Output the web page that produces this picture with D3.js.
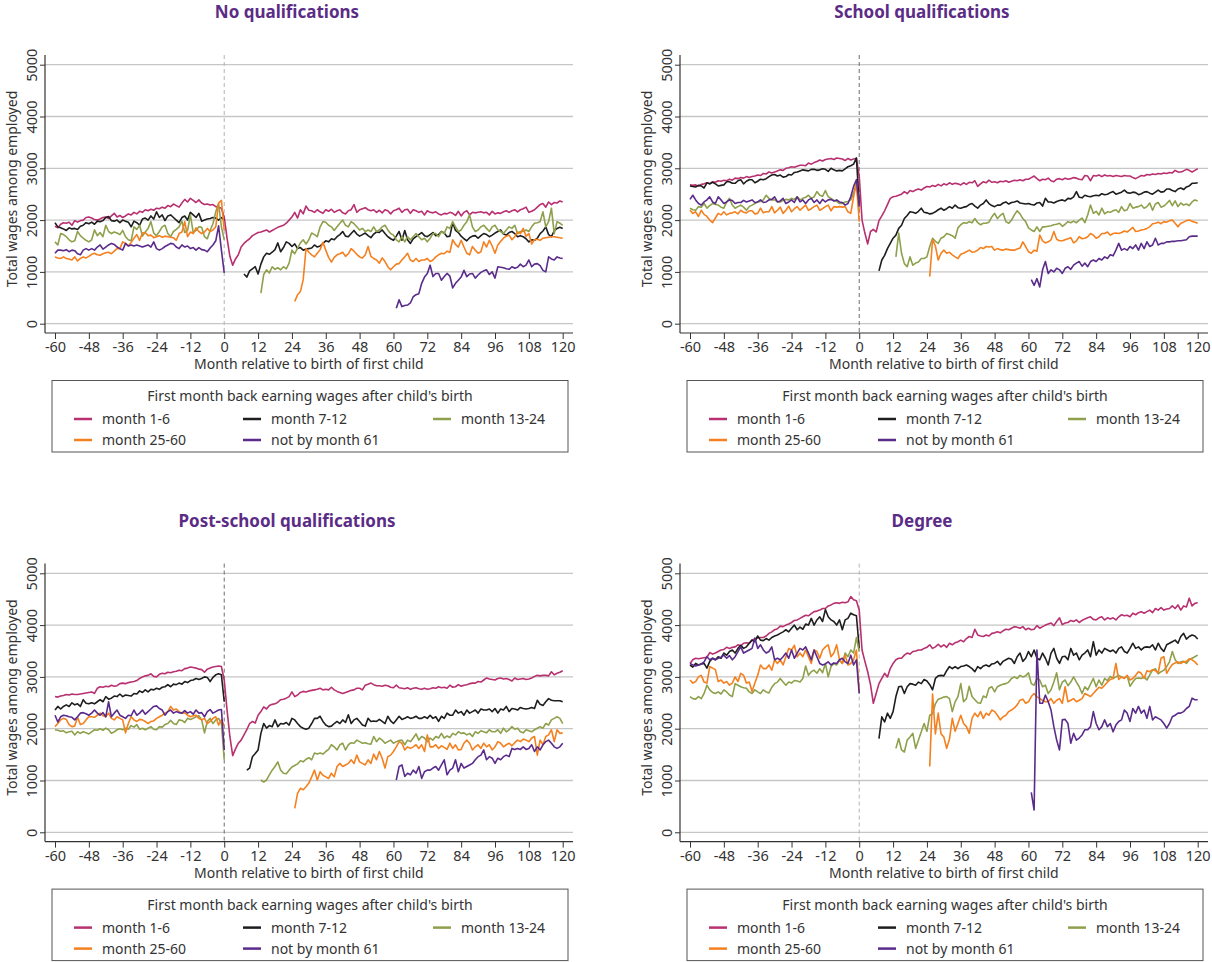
<!DOCTYPE html>
<html>
<head>
<meta charset="utf-8">
<script src="https://cdn.jsdelivr.net/npm/d3@7"></script>
<style>
  body { margin: 0; background: #fff; }
  text { font-family: "Noto Sans", sans-serif; fill: #333; }
</style>
</head>
<body>
<svg id="chart"></svg>
<script>
// ---- labels ----
const panelTitles = ["No qualifications", "School qualifications", "Post-school qualifications", "Degree"];
const seriesNames = ["month 1-6", "month 7-12", "month 13-24", "month 25-60", "not by month 61"];
const legendTitle = "First month back earning wages after child's birth";
const xTitle = "Month relative to birth of first child";
const yTitle = "Total wages among employed";
const xTicks = [-60, -48, -36, -24, -12, 0, 12, 24, 36, 48, 60, 72, 84, 96, 108, 120];
const yTicks = [0, 1000, 2000, 3000, 4000, 5000];
// first month of the after-birth segment for each series (pre segments run -60..0)
const postStart = [1, 7, 13, 25, 61];

// ---- No qualifications ----
const noQual_m1_6_pre = [1880,1850,1920,1950,1940,1960,1900,1990,1960,1990,
  2000,2050,2060,2040,2010,2000,2020,2050,2060,2030, 2080,2130,2060,2090,2050,2080,2120,2100,2150,2120,
  2170,2150,2200,2180,2210,2190,2230,2220,2250,2230, 2280,2260,2310,2280,2250,2330,2400,2350,2420,2380,
  2340,2390,2330,2300,2310,2290,2300,2260,2250,2230, 2060];
const noQual_m1_6_post = [1650,1300,1130,1250,1330,1480,1550,1600,1640,1700,
  1730,1760,1770,1790,1810,1770,1800,1830,1860,1880, 1900,1940,2000,2060,2150,2040,2200,2120,2270,2190,
  2180,2150,2200,2160,2130,2200,2170,2210,2150,2180, 2200,2140,2120,2180,2200,2300,2150,2200,2220,2240,
  2200,2180,2200,2150,2190,2140,2200,2180,2120,2180, 2200,2230,2150,2200,2210,2130,2200,2180,2150,2170,
  2100,2180,2150,2140,2160,2120,2100,2130,2120,2150, 2130,2090,2170,2080,2150,2180,2100,2150,2140,2150,
  2160,2140,2150,2100,2170,2120,2140,2130,2160,2180, 2150,2180,2200,2160,2200,2220,2250,2150,2170,2200,
  2250,2300,2320,2250,2350,2300,2340,2330,2370,2350];
const noQual_m7_12_pre = [1950,1870,1850,1830,1800,1850,1830,1840,1820,1880,
  1900,1950,1930,1960,1920,1980,1970,1990,2050,2070, 1990,1980,2000,1950,2000,1980,1960,1870,1980,1950,
  1900,2020,2040,2000,2080,2020,2160,2050,2100,1990, 2080,2100,2050,2000,1950,2050,2080,2000,2150,2100,
  2050,2130,1980,2000,2020,2030,2050,2040,2000,2050, 2000];
const noQual_m7_12_post = [960,900,1020,1060,1100,960,1150,1290,1360,1340,
  1380,1430,1560,1390,1470,1580,1550,1490,1540,1450, 1470,1420,1440,1450,1460,1520,1480,1500,1550,1600,
  1580,1640,1620,1680,1720,1780,1690,1680,1740,1800, 1730,1690,1720,1750,1700,1660,1730,1770,1760,1810,
  1740,1680,1640,1610,1690,1780,1610,1800,1620,1550, 1640,1680,1720,1760,1700,1680,1720,1760,1700,1720,
  1780,1750,1680,1690,1950,1800,1760,1690,1640,1600, 1660,1690,1700,1650,1700,1740,1720,1680,1710,1750,
  1780,1810,1730,1710,1760,1780,1740,1680,1700,1680, 1640,1580,1620,1610,1650,1740,1790,1870,1720,1680,
  1790,1840,1860,1840];
const noQual_m13_24_pre = [1580,1520,1740,1720,1680,1620,1580,1600,1780,1700,
  1650,1610,1580,1620,1810,1700,1760,1680,1900,1780, 1740,1770,1750,1720,1800,1680,1620,1600,1870,1820,
  1900,1690,1770,1840,1970,1750,1700,1780,1870,1900, 1740,1680,1780,1820,1870,1980,1760,1800,2100,1760,
  1800,1870,1860,1680,1640,1800,1930,2160,2320,1870, 1620];
const noQual_m13_24_post = [590,950,1040,980,1100,1050,1080,1040,1100,1060,
  1170,1420,1350,1460,1560,1620,1540,1620,1750,1720, 1680,1870,1970,1960,1900,1870,1800,1870,1940,2000,
  1900,1870,1970,1930,1870,1810,1840,1780,1810,1780, 1870,1780,1810,1870,1900,1810,1740,1710,1620,1580,
  1680,1580,1680,1620,1680,1740,1680,1620,1650,1580, 1650,1740,1740,1680,1780,1740,1870,1840,1970,1870,
  1780,1810,1900,1970,2100,1870,1780,1810,1870,1900, 1840,1780,1870,1900,1810,1780,1740,1810,1870,1840,
  1900,1740,1780,1780,1810,1780,1870,1940,1950,1970, 2160,1870,1970,2230,1740,1970,1940,1900];
const noQual_m25_60_pre = [1290,1270,1260,1290,1260,1250,1230,1290,1210,1260,
  1290,1270,1300,1340,1360,1330,1320,1350,1370,1380, 1350,1400,1450,1450,1580,1550,1500,1570,1650,1720,
  1610,1750,1760,1700,1710,1660,1680,1700,1670,1690, 1680,1670,1660,1610,1740,1770,1970,1680,1770,1740,
  1850,1780,1740,1770,1840,1780,1810,1870,2330,2380, 1800];
const noQual_m25_60_post = [430,560,620,850,1450,1380,1330,1290,1360,1430,
  1570,1420,1280,1190,1280,1330,1350,1380,1300,1350, 1450,1400,1340,1290,1270,1330,1490,1300,1260,1230,
  1170,1270,1200,1100,1040,1100,1150,1160,1230,1290, 1360,1230,1200,1260,1200,1230,1230,1260,1200,1230,
  1290,1330,1360,1350,1400,1380,1620,1530,1480,1610, 1480,1360,1330,1490,1420,1360,1390,1580,1480,1610,
  1500,1360,1520,1590,1650,1690,1710,1620,1680,1770, 1740,1840,1690,1740,1540,1620,1630,1610,1650,1660,
  1670,1680,1680,1670,1660,1650];
const noQual_not61_pre = [1360,1420,1420,1410,1430,1390,1420,1410,1350,1330,
  1420,1450,1420,1450,1420,1480,1520,1440,1480,1520, 1550,1530,1480,1450,1420,1550,1500,1520,1500,1520,
  1500,1480,1500,1520,1480,1580,1450,1420,1450,1490, 1520,1550,1540,1480,1450,1520,1480,1500,1450,1470,
  1420,1470,1430,1420,1390,1460,1520,1600,1890,1420, 980];
const noQual_not61_post = [300,460,330,350,360,400,520,560,580,780,
  900,970,1130,910,970,970,840,910,970,920, 690,780,840,900,1030,910,960,970,880,940,
  990,1020,1040,950,1000,880,1100,1090,1080,1060, 1050,1100,1070,1090,1150,1100,1130,1230,1100,1150,
  1160,1120,1030,1000,1290,1250,1230,1290,1270,1260];

// ---- School qualifications ----
const school_m1_6_pre = [2680,2670,2680,2660,2690,2700,2720,2700,2740,2730,
  2760,2750,2770,2760,2790,2770,2810,2800,2820,2810, 2840,2820,2840,2850,2870,2860,2900,2890,2930,2910,
  2930,2950,2970,2960,3000,3010,3030,3020,3040,3060, 3060,3050,3100,3080,3110,3130,3160,3140,3170,3180,
  3190,3170,3200,3190,3180,3150,3190,3160,3180,3190, 2850];
const school_m1_6_post = [2000,1750,1540,1780,1820,1770,1990,2080,2180,2300,
  2420,2450,2460,2480,2500,2550,2510,2570,2550,2580, 2600,2580,2620,2650,2640,2670,2650,2690,2660,2700,
  2680,2720,2690,2710,2700,2680,2720,2690,2730,2720, 2760,2650,2700,2740,2720,2770,2730,2740,2720,2750,
  2740,2760,2730,2750,2770,2760,2780,2760,2790,2790, 2820,2850,2800,2760,2790,2780,2810,2760,2740,2790,
  2800,2780,2810,2790,2800,2820,2810,2790,2780,2860, 2850,2760,2860,2850,2870,2840,2870,2850,2860,2840,
  2860,2850,2840,2860,2850,2850,2820,2800,2830,2860, 2850,2880,2870,2890,2880,2900,2890,2910,2900,2920,
  2910,2960,2930,2930,2950,2980,2960,2930,2960,2990];
const school_m7_12_pre = [2660,2650,2640,2670,2660,2620,2720,2700,2730,2700,
  2660,2670,2680,2740,2740,2710,2710,2760,2780,2700, 2750,2780,2780,2720,2750,2790,2780,2800,2840,2870,
  2880,2850,2870,2830,2840,2880,2870,2920,2930,2950, 2970,2960,2950,2980,2980,2960,2970,2990,2980,2940,
  3000,2970,2950,2960,2950,2990,3030,3050,3080,3200, 2300];
const school_m7_12_post = [1020,1230,1320,1450,1550,1650,1710,1840,1900,2030,
  2090,2160,2150,2130,2170,2230,2150,2140,2120,2130, 2160,2200,2230,2190,2220,2260,2230,2290,2240,2230,
  2250,2260,2300,2320,2270,2230,2290,2320,2390,2320, 2280,2260,2290,2290,2330,2350,2310,2340,2350,2370,
  2330,2320,2310,2320,2300,2290,2330,2340,2270,2420, 2350,2350,2330,2360,2380,2390,2370,2420,2410,2450,
  2550,2440,2430,2480,2460,2450,2470,2480,2470,2510, 2490,2500,2530,2550,2500,2520,2540,2580,2530,2520,
  2540,2530,2490,2510,2540,2550,2520,2500,2540,2580, 2540,2550,2600,2600,2570,2550,2600,2620,2590,2640,
  2660,2710,2710,2720];
const school_m13_24_pre = [2230,2200,2190,2260,2250,2320,2230,2280,2320,2300,
  2290,2250,2230,2350,2420,2290,2230,2260,2290,2250, 2190,2260,2290,2320,2350,2360,2390,2480,2420,2390,
  2390,2350,2350,2380,2400,2390,2420,2400,2450,2390, 2420,2440,2480,2420,2450,2550,2480,2460,2570,2450,
  2420,2380,2360,2320,2320,2350,2360,2390,2520,2710, 2190];
const school_m13_24_post = [1290,1750,1360,1160,1100,1290,1130,1170,1190,1260,
  1260,1290,1490,1650,1590,1550,1650,1680,1740,1720, 1700,1650,1850,1910,1950,1940,1970,1950,2030,1950,
  1910,1940,1940,1960,2060,2130,2030,2090,2130,1970, 1940,2000,2100,2180,2120,2030,1970,1850,1810,1780,
  1870,1780,1870,1870,1880,1890,1910,1920,1940,1880, 1920,1970,1950,1980,1950,2000,2040,1950,2100,2290,
  2130,2170,2100,2230,2120,2160,2150,2180,2200,2150, 2260,2180,2200,2320,2230,2250,2260,2290,2230,2260,
  2330,2190,2310,2340,2250,2270,2320,2380,2280,2370, 2260,2330,2290,2310,2280,2350,2390,2370];
const school_m25_60_pre = [2190,2130,2160,2070,2190,2110,2070,2000,1950,2040,
  2130,2100,2160,2100,2130,2140,2160,2120,2190,2150, 2140,2180,2180,2120,2130,2230,2140,2160,2160,2260,
  2140,2190,2250,2130,2190,2270,2160,2220,2260,2190, 2240,2290,2190,2220,2260,2290,2190,2220,2260,2290,
  2180,2260,2250,2260,2250,2260,2160,2130,2450,2710, 1970];
const school_m25_60_post = [910,1620,1500,1230,1360,1420,1360,1380,1330,1290,
  1260,1340,1360,1390,1420,1380,1390,1420,1470,1450, 1490,1480,1490,1420,1450,1430,1420,1440,1430,1420,
  1420,1440,1460,1580,1490,1390,1360,1420,1400,1710, 1600,1560,1580,1620,1780,1630,1600,1600,1620,1640,
  1660,1560,1600,1680,1640,1650,1680,1740,1710,1650, 1680,1740,1740,1770,1710,1740,1750,1740,1760,1790,
  1770,1810,1860,1780,1790,1810,1820,1840,1870,1930, 1940,1960,1930,1970,1960,1990,2000,1940,1870,1940,
  1960,1990,2000,1980,1960,1940];
const school_not61_pre = [2400,2480,2390,2320,2290,2350,2390,2450,2350,2320,
  2450,2390,2320,2350,2390,2380,2320,2340,2340,2380, 2350,2370,2390,2340,2350,2390,2340,2350,2390,2400,
  2450,2350,2370,2420,2320,2350,2390,2340,2450,2350, 2390,2320,2390,2420,2340,2390,2320,2400,2350,2390,
  2400,2370,2390,2350,2340,2290,2320,2450,2650,2780, 2260];
const school_not61_post = [850,740,870,710,1040,1200,970,1040,1000,1070,
  1040,970,1070,1100,1050,1130,1170,1200,1110,1170, 1100,1200,1230,1200,1260,1230,1290,1260,1330,1310,
  1420,1550,1420,1450,1420,1490,1450,1520,1420,1550, 1450,1580,1490,1520,1650,1520,1550,1550,1580,1580,
  1590,1590,1600,1600,1610,1620,1680,1690,1690,1690];

// ---- Post-school qualifications ----
const postSchool_m1_6_pre = [2620,2610,2630,2640,2660,2650,2670,2660,2660,2670,
  2680,2690,2700,2710,2680,2780,2810,2800,2820,2810, 2840,2820,2830,2870,2880,2870,2890,2900,2910,2930,
  2970,3000,3020,3030,3060,3010,3000,3050,3070,3060, 3090,3080,3100,3110,3130,3120,3160,3170,3190,3180,
  3170,3150,3140,3090,3150,3170,3190,3200,3210,3200, 2940];
const postSchool_m1_6_post = [2360,1850,1480,1610,1720,1780,1880,1980,2100,2140,
  2110,2260,2330,2420,2380,2450,2470,2480,2510,2560, 2570,2590,2620,2710,2620,2650,2700,2720,2710,2730,
  2740,2750,2760,2780,2750,2760,2750,2800,2750,2720, 2700,2680,2700,2720,2740,2750,2780,2780,2750,2840,
  2860,2880,2850,2830,2830,2820,2840,2830,2800,2790, 2840,2790,2780,2770,2790,2760,2780,2790,2770,2760,
  2780,2760,2770,2790,2780,2810,2790,2800,2780,2840, 2800,2810,2850,2820,2840,2850,2870,2880,2880,2910,
  2900,2940,2980,2960,2950,2940,2970,2980,2960,2970, 2950,2920,2980,2950,2960,2970,2950,2960,2980,3010,
  3030,3020,3030,3030,3020,3100,3040,3070,3090,3120];
const postSchool_m7_12_pre = [2360,2430,2380,2430,2460,2430,2500,2460,2480,2430,
  2560,2490,2480,2500,2480,2520,2560,2520,2620,2570, 2590,2630,2620,2670,2620,2650,2640,2630,2680,2670,
  2730,2700,2750,2710,2760,2750,2780,2760,2800,2810, 2850,2810,2860,2850,2880,2860,2910,2890,2930,2940,
  2970,2950,2970,3000,2990,2910,2990,3040,3060,3040, 2520];
const postSchool_m7_12_post = [null,1200,1240,1460,1520,1590,1910,2100,2010,2060,
  2040,2170,2040,2100,2090,2120,2070,2200,2170,2100, 2040,2010,1990,2010,2100,2200,2200,2240,2140,2070,
  2040,2050,2100,2140,2100,2170,2120,2270,2100,2170, 2200,2140,2070,2050,2200,2140,2150,2140,2180,2140,
  2100,2240,2150,2100,2170,2240,2180,2200,2230,2200, 2210,2240,2200,2200,2230,2200,2260,2200,2230,2140,
  2240,2200,2300,2260,2260,2360,2300,2330,2260,2360, 2300,2330,2360,2300,2380,2360,2360,2380,2330,2390,
  2300,2380,2360,2430,2330,2390,2380,2360,2410,2390, 2380,2390,2410,2390,2550,2470,2450,2520,2580,2550,
  2540,2540,2540,2520];
const postSchool_m13_24_pre = [1980,1970,1950,1960,1920,1940,1950,1880,1940,1910,
  1940,1920,1900,1940,1980,1970,2000,1970,2010,1980, 1910,1940,1980,2000,1980,2010,1990,2060,2030,2080,
  1990,2010,1980,2010,2040,1990,1980,2040,2030,2080, 2100,2160,2100,2080,2170,2160,2120,2200,2180,2200,
  2230,2250,2170,1920,2140,2200,2100,2170,2200,2100, 1400];
const postSchool_m13_24_post = [1010,970,1010,1110,1200,1270,1360,1200,1140,1130,
  1200,1260,1290,1320,1380,1360,1410,1440,1400,1530, 1510,1530,1510,1560,1600,1690,1650,1590,1690,1720,
  1590,1690,1730,1720,1780,1750,1720,1730,1710,1700, 1850,1750,1820,1780,1720,1750,1780,1720,1750,1770,
  1780,1690,1780,1750,1820,1900,1780,1850,1820,1750, 1820,1780,1850,1820,1910,1820,1860,1830,1910,1880,
  1940,1910,1920,1880,1910,1850,1940,1910,1960,1940, 1920,1980,1940,1940,1980,1910,2010,1940,1980,2040,
  1990,2010,1940,1920,1980,1960,1940,1980,2010,2040, 2010,2100,2070,2170,2200,2230,2200,2100];
const postSchool_m25_60_pre = [2040,2100,2170,2200,2180,2080,2040,2050,2220,2080,
  2100,2170,2230,2230,2220,2260,2300,2250,2230,2300, 2200,2170,2230,2200,2170,1920,2100,2230,2170,2140,
  2180,2170,2140,2100,2140,2150,2200,2230,2260,2300, 2330,2430,2360,2380,2330,2300,2310,2260,2230,2250,
  2260,2200,2170,2200,2100,2140,2200,2230,2070,2170, 2060];
const postSchool_m25_60_post = [460,750,850,820,880,950,1070,1200,1010,1170,
  1100,1070,1040,1140,1070,1270,1330,1270,1300,1330, 1400,1330,1490,1360,1330,1300,1400,1330,1510,1400,
  1560,1430,1240,1460,1490,1560,1650,1750,1720,1590, 1650,1620,1650,1690,1620,1690,1560,1880,1650,1650,
  1690,1620,1670,1640,1600,1720,1620,1690,1590,1600, 1720,1780,1720,1590,1650,1690,1620,1720,1650,1690,
  1590,1650,1750,1720,1650,1690,1720,1670,1730,1780, 1750,1800,1780,1750,1820,1850,1490,1780,1690,1850,
  1880,1980,1750,1980,1910,1920];
const postSchool_not61_pre = [2260,2130,2230,2260,2250,2230,2220,2170,2230,2300,
  2310,2290,2260,2300,2360,2300,2260,2310,2230,2520, 2230,2300,2360,2260,2230,2200,2260,2250,2360,2260,
  2300,2360,2280,2330,2380,2430,2440,2390,2360,2260, 2330,2360,2300,2330,2310,2300,2350,2300,2330,2280,
  2360,2300,2310,2230,2330,2370,2300,2330,2360,2370, 1590];
const postSchool_not61_post = [1010,1270,1300,1080,1140,1110,1200,1140,1270,1040,
  1170,1200,1200,1240,1270,1200,1300,1400,1110,1200, 1240,1400,1170,1330,1240,1270,1300,1330,1400,1460,
  1490,1590,1400,1460,1430,1330,1430,1400,1460,1490, 1460,1620,1600,1620,1600,1650,1600,1620,1690,1560,
  1650,1590,1690,1750,1780,1720,1650,1620,1650,1720];

// ---- Degree ----
const degree_m1_6_pre = [3260,3330,3360,3350,3360,3370,3380,3470,3440,3460,
  3490,3520,3530,3570,3550,3570,3580,3620,3600,3650, 3660,3650,3710,3730,3750,3760,3760,3790,3840,3870,
  3910,3930,3980,3970,4000,4020,4050,4090,4100,4130, 4160,4190,4180,4220,4260,4270,4290,4320,4320,4370,
  4390,4420,4430,4420,4440,4430,4450,4550,4490,4470, 4290];
const degree_m1_6_post = [3520,3300,3100,2850,2490,2680,2870,2970,3070,3000,
  3160,3260,3330,3360,3360,3420,3460,3440,3490,3500, 3520,3520,3550,3570,3620,3550,3580,3630,3580,3620,
  3570,3650,3620,3660,3680,3710,3680,3740,3780,3760, 3920,3810,3790,3780,3810,3790,3840,3850,3870,3850,
  3890,3920,3910,3940,3970,3960,3940,3970,3910,3940, 3910,3920,3990,3940,3970,4000,4020,4040,3990,4070,
  4140,4010,4040,4050,4090,4070,4100,4050,4090,4120, 4140,4160,4110,4100,4140,4160,4100,4140,4120,4140,
  4100,4160,4200,4180,4190,4160,4230,4200,4240,4260, 4230,4260,4290,4240,4320,4290,4340,4290,4310,4320,
  4370,4320,4390,4290,4370,4350,4520,4370,4420,4430];
const degree_m7_12_pre = [3230,3190,3260,3230,3250,3260,3170,3300,3360,3330,
  3390,3360,3460,3420,3490,3520,3460,3550,3610,3550, 3580,3650,3710,3680,3790,3710,3700,3740,3710,3760,
  3790,3810,3840,3870,3910,3870,3940,4000,3910,3960, 3920,4020,4000,4130,4000,4100,4160,4070,4300,4160,
  4100,4070,4000,4100,3910,4100,4130,4230,4200,4180, 3550];
const degree_m7_12_post = [1810,2230,2130,2300,2200,2330,2620,2810,2820,2680,
  2810,2870,2860,2840,2900,2870,2950,2920,2850,2750, 2970,3020,3030,3020,3120,3200,3160,3200,3160,3200,
  3210,3230,3200,3160,3100,3200,3160,3210,3230,3200, 3250,3260,3300,3230,3300,3330,3360,3340,3260,3390,
  3460,3300,3360,3490,3390,3520,3360,3330,3460,3360, 3230,3460,3550,3360,3260,3390,3400,3330,3550,3420,
  3460,3330,3420,3460,3520,3390,3680,3420,3520,3460, 3550,3520,3490,3520,3460,3550,3580,3490,3460,3550,
  3650,3550,3580,3520,3570,3580,3570,3620,3520,3650, 3550,3490,3620,3650,3680,3710,3650,3780,3840,3730,
  3780,3810,3790,3730];
const degree_m13_24_pre = [2620,2580,2570,2620,2580,2680,2840,2750,2700,2680,
  2710,2670,2750,2710,2650,2620,2870,2840,2810,2790, 2780,2710,2680,2750,2710,2680,2750,2710,2690,2800,
  2870,2900,2970,2900,2840,2900,2880,2930,2920,2900, 2970,3210,3030,3100,3130,3070,3160,3080,3260,3000,
  3200,3260,3230,3330,3260,3460,3390,3520,3460,3760, 3490];
const degree_m13_24_post = [1620,1810,1590,1550,1780,1840,1910,1620,1780,1940,
  2100,1950,2260,2290,2480,2570,2590,2610,2620,2580, 2330,2520,2620,2870,2520,2580,2820,2620,2560,2500,
  2490,2630,2600,2780,2810,2710,2810,2840,2860,2870, 2900,2970,3000,2970,3030,3000,3020,3080,2870,2840,
  2970,2940,2810,2840,2680,2750,2900,3080,2750,2900, 2940,2830,2900,3000,2900,2810,2680,2810,2750,2860,
  2970,2810,2940,2840,2970,2930,3010,2970,3000,3030, 3000,2980,3020,2820,2900,2970,2980,2970,3000,2940,
  3040,3130,3160,3060,3100,3130,3200,3290,3490,3330, 3260,3290,3300,3260,3330,3360,3390,3420];
const degree_m25_60_pre = [2940,2880,2910,3000,3030,2900,2880,3200,3170,3140,
  2910,2940,2880,2910,2840,2880,3000,2910,3070,3030, 2880,2900,2720,2880,3030,3230,3160,3160,3230,3130,
  3330,3260,3330,3230,3390,3550,3520,3610,3390,3460, 3390,3520,3390,3260,3520,3490,3360,3520,3580,3620,
  3390,3460,3620,3330,3260,3420,3230,3260,3330,3520, 2700];
const degree_m25_60_post = [1270,2670,1900,2300,1900,1840,1620,1800,2200,1950,
  2100,2260,2100,2040,1910,2200,2300,2230,2330,2200, 2300,2260,2360,2330,2260,2170,2230,2260,2330,2360,
  2400,2460,2550,2570,2490,2520,2620,2680,2620,2580, 2550,2520,2520,2580,2490,2550,2580,2490,2810,2520,
  2550,2580,2520,2550,2580,2680,2650,2620,2680,2740, 2800,2780,2840,2900,2950,2970,3260,2950,3000,2970,
  3030,2940,2970,3030,3100,3070,2970,3120,3100,3140, 3120,3080,3360,3390,3070,3160,3240,3270,3290,3260,
  3290,3300,3350,3330,3290,3230];
const degree_not61_pre = [3260,3230,3210,3230,3250,3290,3390,3330,3360,3330,
  3360,3380,3420,3360,3410,3330,3390,3490,3580,3460, 3490,3520,3550,3750,3550,3620,3520,3460,3490,3580,
  3330,3360,3330,3390,3460,3360,3520,3360,3460,3550, 3520,3580,3460,3330,3520,3390,3260,3230,3250,3290,
  3230,3270,3260,3330,3360,3290,3260,3420,3230,3330, 2680];
const degree_not61_post = [770,430,3520,2490,2490,2650,2520,2360,2040,1780,
  1590,2170,2180,2100,1720,1910,1780,1820,1880,1980, 1980,2040,2330,2100,1980,2040,2170,2040,2100,1940,
  2070,2140,2170,2360,2300,2140,2390,2300,2430,2300, 2360,2200,2430,2170,2230,2200,2170,2100,2010,2100,
  2230,2260,2300,2300,2330,2390,2430,2590,2560,2560];

// ---- assemble ----
const panels = [
  [[noQual_m1_6_pre, noQual_m1_6_post], [noQual_m7_12_pre, noQual_m7_12_post], [noQual_m13_24_pre, noQual_m13_24_post], [noQual_m25_60_pre, noQual_m25_60_post], [noQual_not61_pre, noQual_not61_post]],
  [[school_m1_6_pre, school_m1_6_post], [school_m7_12_pre, school_m7_12_post], [school_m13_24_pre, school_m13_24_post], [school_m25_60_pre, school_m25_60_post], [school_not61_pre, school_not61_post]],
  [[postSchool_m1_6_pre, postSchool_m1_6_post], [postSchool_m7_12_pre, postSchool_m7_12_post], [postSchool_m13_24_pre, postSchool_m13_24_post], [postSchool_m25_60_pre, postSchool_m25_60_post], [postSchool_not61_pre, postSchool_not61_post]],
  [[degree_m1_6_pre, degree_m1_6_post], [degree_m7_12_pre, degree_m7_12_post], [degree_m13_24_pre, degree_m13_24_post], [degree_m25_60_pre, degree_m25_60_post], [degree_not61_pre, degree_not61_post]]
];

// ---- style ----
const colors = ["#b8306f", "#1e1e1e", "#8ea04c", "#f5801f", "#5a2b8b"];
const zeroLineColors = ["#b4b4b4", "#6e6e6e", "#6e6e6e", "#b4b4b4"];
const origins = [[0, 0], [635, 0], [0, 508.6], [635, 508.6]];

const width = 1212, height = 962;
const svg = d3.select("#chart").attr("width", width).attr("height", height);

const x = d3.scaleLinear().domain([-60, 120]).range([55, 562.7]);
const y = d3.scaleLinear().domain([0, 5000]).range([323.7, 64.7]);

const line = d3.line()
  .defined(d => d.v != null)
  .x(d => x(d.m))
  .y(d => y(d.v));

const toPoints = (vals, start) => vals.map((v, i) => ({ m: start + i, v: v }));

panels.forEach((series, p) => {
  const g = svg.append("g").attr("transform", `translate(${origins[p][0]},${origins[p][1]})`);

  g.append("text")
    .attr("x", 287).attr("y", 18)
    .attr("text-anchor", "middle")
    .style("font-size", "17px").style("font-weight", "bold").style("fill", "#5b2c86")
    .text(panelTitles[p]);

  // grid
  g.selectAll(".grid").data(yTicks).enter().append("line")
    .attr("x1", 45).attr("x2", 573)
    .attr("y1", d => y(d)).attr("y2", d => y(d))
    .attr("stroke", "#c6c6c6").attr("stroke-width", 1.3);

  // zero line
  g.append("line")
    .attr("x1", x(0)).attr("x2", x(0)).attr("y1", 55).attr("y2", 333)
    .attr("stroke", zeroLineColors[p]).attr("stroke-width", 1)
    .attr("stroke-dasharray", "4,3");

  // y axis
  const ya = g.append("g").attr("transform", "translate(45,0)")
    .call(d3.axisLeft(y).tickValues(yTicks).tickSize(5).tickFormat(d => String(d)));
  ya.select(".domain").remove();
  ya.selectAll("line").attr("stroke", "#333");
  ya.selectAll("text")
    .attr("transform", "rotate(-90)")
    .attr("x", 0).attr("y", -8).attr("dy", 0)
    .attr("text-anchor", "middle")
    .style("font-size", "14.5px").style("font-family", "Noto Sans").attr("fill", "#3a3a3a");
  g.append("line").attr("x1", 45).attr("x2", 45).attr("y1", 55).attr("y2", 333)
    .attr("stroke", "#333").attr("stroke-width", 1.2);

  // x axis
  const xa = g.append("g").attr("transform", "translate(0,333)")
    .call(d3.axisBottom(x).tickValues(xTicks).tickSize(6).tickFormat(d => String(d)));
  xa.select(".domain").remove();
  xa.selectAll("line").attr("stroke", "#333");
  xa.selectAll("text")
    .attr("y", 9).attr("dy", "0.71em")
    .style("font-size", "14.5px").style("font-family", "Noto Sans").attr("fill", "#3a3a3a");
  g.append("line").attr("x1", 45).attr("x2", 573).attr("y1", 333).attr("y2", 333)
    .attr("stroke", "#333").attr("stroke-width", 1.2);

  g.append("text")
    .attr("x", (x.range()[0] + x.range()[1]) / 2).attr("y", 369)
    .attr("text-anchor", "middle").style("font-size", "14px")
    .text(xTitle);
  g.append("text")
    .attr("transform", "translate(17,189) rotate(-90)")
    .attr("text-anchor", "middle").style("font-size", "14px")
    .text(yTitle);

  // series
  series.forEach((s, i) => {
    const pre = toPoints(s[0], -60);
    const post = toPoints(s[1], postStart[i]);
    const segs = i === 0 ? [pre.concat(post)] : [pre, post];
    segs.forEach(seg => {
      g.append("path")
        .datum(seg)
        .attr("d", line)
        .attr("fill", "none")
        .attr("stroke", colors[i])
        .attr("stroke-width", 1.6)
        .attr("stroke-linejoin", "round");
    });
  });

  // legend
  const lg = g.append("g");
  lg.append("rect")
    .attr("x", 52).attr("y", 380.5).attr("width", 516).attr("height", 71.5)
    .attr("fill", "none").attr("stroke", "#555").attr("stroke-width", 1);
  lg.append("text")
    .attr("x", 310).attr("y", 401)
    .attr("text-anchor", "middle").style("font-size", "14px")
    .text(legendTitle);
  const colX = [74, 243, 433];
  const rowY = [424, 445];
  seriesNames.forEach((name, i) => {
    const cx = colX[i % 3], cy = rowY[Math.floor(i / 3)];
    lg.append("line")
      .attr("x1", cx).attr("x2", cx + 18).attr("y1", cy - 5).attr("y2", cy - 5)
      .attr("stroke", colors[i]).attr("stroke-width", 2.5);
    lg.append("text")
      .attr("x", cx + 28).attr("y", cy)
      .style("font-size", "14px")
      .text(name);
  });
});
</script>
</body>
</html>
